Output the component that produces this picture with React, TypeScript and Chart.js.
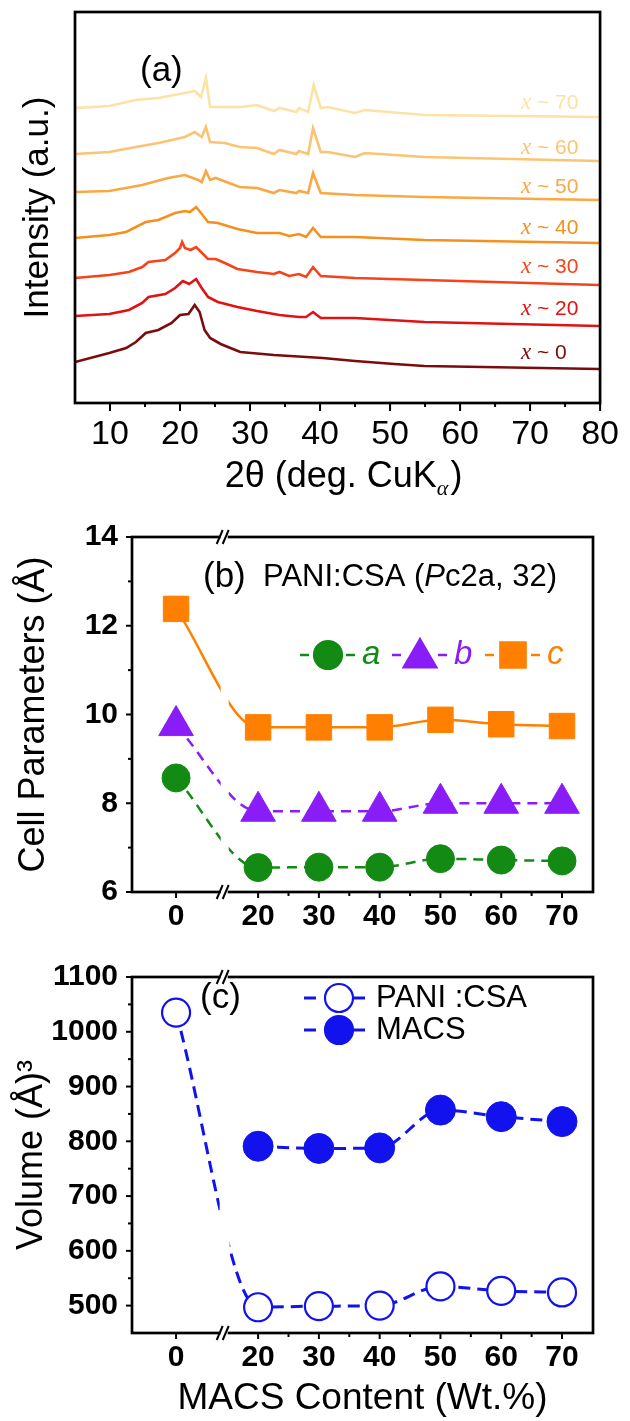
import React, { useEffect, useRef } from 'react';
import { Chart, registerables } from 'chart.js';

Chart.register(...registerables);

const SANS = '"Liberation Sans", Arial, Helvetica, sans-serif';
const SERIF = '"Liberation Serif", "Times New Roman", serif';

// ---------- Panel (a): XRD patterns (2θ, intensity in arbitrary offset units) ----------
const XRD_LABELS = ['70', '60', '50', '40', '30', '20', '0'];
const XRD_COLORS = ['#fde2a6', '#fbc473', '#f9a843', '#f6901c', '#f4441c', '#e01212', '#7a0c0c'];

const XRD_X70: [number, number][] = [[5, 300], [9.9, 302], [13.7, 308], [16.9, 310], [20.7, 315], [22.1, 317], [23.0, 311], [23.7, 330], [24.3, 301], [28.6, 301], [31.0, 303], [33.4, 297], [34.2, 300], [36.6, 296], [37.0, 300], [38.3, 296], [39.1, 323], [40.1, 300], [41.1, 301], [45.0, 295], [46.4, 298], [54.9, 293], [79.9, 291]];
const XRD_X60: [number, number][] = [[5, 254], [9.9, 256], [13.7, 261], [16.9, 265], [20.7, 271], [22.1, 276], [23.1, 271], [23.7, 281], [24.3, 266], [26.4, 265], [28.5, 261], [31.0, 260], [33.4, 254], [34.2, 258], [36.6, 254], [37.0, 257], [38.3, 254], [39.0, 280], [40.1, 256], [41.1, 256], [45.0, 251], [46.4, 255], [54.9, 251], [79.9, 247]];
const XRD_X50: [number, number][] = [[5, 216], [9.9, 217], [14.6, 223], [18.3, 230], [20.7, 233], [22.6, 228], [23.1, 226], [23.7, 237], [24.3, 228], [25.1, 230], [28.5, 221], [31.0, 220], [33.4, 215], [34.2, 218], [36.6, 215], [37.0, 217], [38.3, 215], [39.0, 235], [40.1, 215], [45.0, 213], [54.9, 211], [79.9, 208]];
const XRD_X40: [number, number][] = [[5, 170], [9.9, 173], [12.3, 176], [15.1, 186], [16.9, 188], [19.3, 195], [20.7, 197], [21.4, 196], [22.3, 201], [23.0, 195], [24.0, 186], [25.4, 185], [28.2, 179], [31.0, 175], [34.2, 175], [35.6, 172], [37.0, 174], [38.0, 171], [39.0, 180], [40.1, 171], [45.0, 171], [54.9, 168], [79.9, 165]];
const XRD_X30: [number, number][] = [[5, 130], [9.9, 133], [12.7, 136], [14.6, 141], [15.5, 146], [17.9, 148], [19.3, 155], [20.0, 160], [20.3, 166], [20.7, 160], [21.5, 158], [22.3, 161], [23.0, 156], [24.0, 149], [25.1, 149], [26.4, 145], [28.2, 139], [31.0, 136], [33.4, 134], [34.2, 136], [35.6, 132], [37.0, 134], [38.0, 131], [39.0, 141], [40.1, 132], [45.0, 130], [54.9, 128], [79.9, 123]];
const XRD_X20: [number, number][] = [[5, 92], [9.9, 94], [12.7, 98], [14.6, 105], [15.5, 111], [17.9, 114], [19.3, 120], [20.4, 127], [21.3, 124], [22.3, 129], [23.0, 121], [24.0, 111], [25.4, 106], [28.2, 101], [31.0, 97], [34.2, 93], [37.0, 91], [38.0, 91], [39.0, 96], [40.1, 90], [45.0, 90], [54.9, 86], [79.9, 82]];
const XRD_X0: [number, number][] = [[5, 46], [9.9, 55], [12.3, 60], [13.7, 66], [15.1, 75], [16.9, 78], [18.8, 85], [20.0, 93], [21.2, 94], [22.1, 103], [22.8, 96], [23.5, 78], [24.3, 70], [25.8, 64], [28.6, 56], [33.4, 53], [40.4, 50], [45.0, 47], [50.6, 44], [54.9, 42], [79.9, 39]];
const XRD_TRACES = [XRD_X70, XRD_X60, XRD_X50, XRD_X40, XRD_X30, XRD_X20, XRD_X0];
const XRD_LABEL_Y = [305, 260, 221, 180, 141, 99, 55];
const XRD_LABEL_X = 68.7;
const TWO_THETA_TICKS = [10, 20, 30, 40, 50, 60, 70, 80];
const TWO_THETA_MINOR = [15, 25, 35, 45, 55, 65, 75];

// ---------- Panel (b): cell parameters ----------
const MACS_CONTENT = [0, 20, 30, 40, 50, 60, 70];
const CELL_A = [8.57, 6.55, 6.56, 6.56, 6.75, 6.72, 6.7];
const CELL_B = [9.75, 7.82, 7.82, 7.82, 8.0, 8.0, 8.0];
const CELL_C = [12.38, 9.71, 9.71, 9.71, 9.88, 9.78, 9.74];
const CELL_TICKS = [6, 8, 10, 12, 14];
const CELL_MINOR = [7, 9, 11, 13];

// ---------- Panel (c): volume ----------
const VOL_PANI = [1035, 497, 499, 500, 535, 527, 524];
const VOL_MACS: (number | null)[] = [null, 791, 787, 788, 857, 845, 836];
const VOL_TICKS = [500, 600, 700, 800, 900, 1000, 1100];
const VOL_MINOR = [550, 650, 750, 850, 950, 1050];
const CONTENT_MINOR = [25, 35, 45, 55, 65];

// axis break (0 | 20..70)
const BREAK_LO = 7.5;
const BREAK_SHIFT = 6.5;
const BREAK_MARK = 8;
const toAxis = (v: number) => (v <= BREAK_LO ? v : v - BREAK_SHIFT);
const fromAxis = (d: number) => Math.round(d <= BREAK_LO ? d : d + BREAK_SHIFT);

const GREEN = '#138a13';
const PURPLE = '#8a1cf7';
const ORANGE = '#ff8000';
const BLUE = '#1212ee';

function line(ctx: CanvasRenderingContext2D, x1: number, y1: number, x2: number, y2: number) {
  ctx.beginPath();
  ctx.moveTo(x1, y1);
  ctx.lineTo(x2, y2);
  ctx.stroke();
}

function frame(chart: any) {
  const { ctx, chartArea: ca } = chart;
  ctx.save();
  ctx.strokeStyle = '#000';
  ctx.lineWidth = 2.7;
  ctx.strokeRect(ca.left, ca.top, ca.right - ca.left, ca.bottom - ca.top);
  ctx.restore();
}

function breakMark(ctx: CanvasRenderingContext2D, x: number, y: number) {
  ctx.save();
  ctx.fillStyle = '#fff';
  ctx.fillRect(x - 4, y - 2, 7, 4);
  ctx.strokeStyle = '#000';
  ctx.lineWidth = 2;
  line(ctx, x - 8, y + 7, x - 2, y - 7);
  line(ctx, x - 2, y + 7, x + 4, y - 7);
  ctx.restore();
}

function drawMarker(ctx: CanvasRenderingContext2D, kind: string, x: number, y: number, r: number, color: string, filled = true) {
  ctx.save();
  ctx.fillStyle = filled ? color : '#fff';
  ctx.strokeStyle = color;
  ctx.lineWidth = 2.2;
  ctx.beginPath();
  if (kind === 'circle') ctx.arc(x, y, r, 0, Math.PI * 2);
  else if (kind === 'triangle') {
    ctx.moveTo(x, y - r);
    ctx.lineTo(x + r * Math.sin(Math.PI / 3), y + r / 2);
    ctx.lineTo(x - r * Math.sin(Math.PI / 3), y + r / 2);
    ctx.closePath();
  } else {
    const s = r * Math.SQRT1_2;
    ctx.rect(x - s, y - s, 2 * s, 2 * s);
  }
  ctx.fill();
  ctx.stroke();
  ctx.restore();
}

// ---------- plugins ----------
const panelAPlugin = {
  id: 'panelA',
  afterDraw(chart: any) {
    const { ctx, chartArea: ca } = chart;
    const xs = chart.scales.x;
    const ys = chart.scales.y;
    frame(chart);
    ctx.save();
    ctx.strokeStyle = '#000';
    ctx.lineWidth = 2;
    TWO_THETA_TICKS.forEach((v) => { const p = xs.getPixelForValue(v); line(ctx, p, ca.bottom, p, ca.bottom + 8); });
    TWO_THETA_MINOR.forEach((v) => { const p = xs.getPixelForValue(v); line(ctx, p, ca.bottom, p, ca.bottom + 4); });
    ctx.textBaseline = 'middle';
    ctx.textAlign = 'left';
    XRD_LABELS.forEach((lab, i) => {
      const px = xs.getPixelForValue(XRD_LABEL_X);
      const py = ys.getPixelForValue(XRD_LABEL_Y[i]);
      ctx.fillStyle = XRD_COLORS[i];
      ctx.font = `italic 23px ${SERIF}`;
      ctx.fillText('x', px, py);
      const w = ctx.measureText('x').width;
      ctx.font = `21px ${SANS}`;
      ctx.fillText(' ~ ' + lab, px + w, py);
    });
    ctx.fillStyle = '#000';
    ctx.font = `35px ${SANS}`;
    ctx.fillText('(a)', 140, 71);
    // x-axis title with subscript
    const main = '2θ (deg. CuK';
    ctx.font = `36px ${SANS}`;
    const w1 = ctx.measureText(main).width;
    const w3 = ctx.measureText(')').width;
    ctx.font = `italic 22px ${SERIF}`;
    const w2 = ctx.measureText('α').width + 2;
    const cx = (ca.left + ca.right) / 2 + 6;
    const ty = 477;
    let x0 = cx - (w1 + w2 + w3) / 2;
    ctx.font = `36px ${SANS}`;
    ctx.fillText(main, x0, ty);
    x0 += w1;
    ctx.font = `italic 22px ${SERIF}`;
    ctx.fillText('α', x0, ty + 12);
    x0 += w2;
    ctx.font = `36px ${SANS}`;
    ctx.fillText(')', x0, ty);
    ctx.restore();
  },
};

function breakAxisTicks(chart: any, yMajor: number[], yMinor: number[]) {
  const { ctx, chartArea: ca } = chart;
  const xs = chart.scales.x;
  const ys = chart.scales.y;
  ctx.save();
  ctx.strokeStyle = '#000';
  ctx.lineWidth = 2;
  MACS_CONTENT.forEach((v) => { const p = xs.getPixelForValue(toAxis(v)); line(ctx, p, ca.bottom, p, ca.bottom + 6); });
  CONTENT_MINOR.forEach((v) => { const p = xs.getPixelForValue(toAxis(v)); line(ctx, p, ca.bottom, p, ca.bottom + 4); });
  yMajor.forEach((v) => { const p = ys.getPixelForValue(v); line(ctx, ca.left, p, ca.left - 6, p); });
  yMinor.forEach((v) => { const p = ys.getPixelForValue(v); line(ctx, ca.left, p, ca.left - 4, p); });
  ctx.restore();
  const bx = xs.getPixelForValue(BREAK_MARK);
  breakMark(ctx, bx, ca.top);
  breakMark(ctx, bx, ca.bottom);
}

function clearBreakStrip(chart: any, width: number) {
  const { ctx, chartArea: ca } = chart;
  const bx = chart.scales.x.getPixelForValue(BREAK_MARK);
  ctx.save();
  ctx.fillStyle = '#fff';
  ctx.fillRect(bx - width / 2, ca.top + 2, width, ca.bottom - ca.top - 4);
  ctx.restore();
}

const panelBPlugin = {
  id: 'panelB',
  afterDatasetsDraw(chart: any) { clearBreakStrip(chart, 8); },
  afterDraw(chart: any) {
    const { ctx } = chart;
    frame(chart);
    breakAxisTicks(chart, CELL_TICKS, CELL_MINOR);
    ctx.save();
    ctx.fillStyle = '#000';
    ctx.textBaseline = 'middle';
    ctx.textAlign = 'left';
    ctx.font = `35px ${SANS}`;
    ctx.fillText('(b)', 203, 72);
    ctx.font = `31px ${SANS}`;
    let x = 263;
    const t1 = 'PANI:CSA (';
    ctx.fillText(t1, x, 72);
    x += ctx.measureText(t1).width;
    ctx.font = `italic 31px ${SANS}`;
    ctx.fillText('P', x, 72);
    x += ctx.measureText('P').width;
    ctx.font = `31px ${SANS}`;
    ctx.fillText('c2a, 32)', x, 72);
    // series key
    const y = 150;
    const items: [string, string, string, number, number][] = [
      ['circle', GREEN, 'a', 328, 14],
      ['triangle', PURPLE, 'b', 420, 19],
      ['rect', ORANGE, 'c', 513, 18],
    ];
    items.forEach(([kind, color, lab, cx, r]) => {
      ctx.strokeStyle = color;
      ctx.lineWidth = 2.5;
      line(ctx, cx - 28, y, cx - 19, y);
      line(ctx, cx + 18, y, cx + 27, y);
      drawMarker(ctx, kind, cx, kind === 'triangle' ? y + 3 : y, r, color);
      ctx.fillStyle = color;
      ctx.font = `italic 33px ${SANS}`;
      ctx.fillText(lab, cx + 34, y);
    });
    ctx.restore();
  },
};

const panelCPlugin = {
  id: 'panelC',
  afterDatasetsDraw(chart: any) { clearBreakStrip(chart, 10); },
  afterDraw(chart: any) {
    const { ctx } = chart;
    frame(chart);
    breakAxisTicks(chart, VOL_TICKS, VOL_MINOR);
    ctx.save();
    ctx.fillStyle = '#000';
    ctx.textBaseline = 'middle';
    ctx.textAlign = 'left';
    ctx.font = `35px ${SANS}`;
    ctx.fillText('(c)', 200, 53);
    const rows: [boolean, string, number][] = [[false, 'PANI :CSA', 53], [true, 'MACS', 85]];
    rows.forEach(([filled, lab, y]) => {
      ctx.strokeStyle = BLUE;
      ctx.lineWidth = 3;
      line(ctx, 304, y, 316, y);
      line(ctx, 354, y, 365, y);
      drawMarker(ctx, 'circle', 339, y, 14, BLUE, filled);
      ctx.fillStyle = '#000';
      ctx.font = `31px ${SANS}`;
      ctx.fillText(lab, 376, y);
    });
    ctx.restore();
  },
};

// ---------- configs ----------
const common = {
  animation: false,
  responsive: false,
  events: [],
  plugins: { legend: { display: false }, tooltip: { enabled: false }, title: { display: false } },
};

function configA(): any {
  return {
    type: 'line',
    data: {
      datasets: XRD_TRACES.map((t, i) => ({
        data: t.map(([x, y]) => ({ x, y })),
        borderColor: XRD_COLORS[i],
        borderWidth: 2.6,
        pointRadius: 0,
        tension: 0,
        fill: false,
      })),
    },
    options: {
      ...common,
      layout: { padding: { top: 12, right: 21, left: 0, bottom: 0 } },
      scales: {
        x: {
          type: 'linear', min: 5, max: 80,
          afterBuildTicks: (s: any) => { s.ticks = TWO_THETA_TICKS.map((v) => ({ value: v })); },
          ticks: { font: { size: 34, family: SANS }, color: '#000', padding: 11, maxRotation: 0, autoSkip: false },
          grid: { display: false, drawTicks: false },
          border: { display: false },
          afterFit: (s: any) => { s.height = 102; },
        },
        y: {
          type: 'linear', min: 5, max: 396,
          ticks: { display: false },
          grid: { display: false, drawTicks: false },
          border: { display: false },
          title: { display: true, text: 'Intensity (a.u.)', font: { size: 35, family: SANS }, color: '#000', padding: { top: 17, bottom: 0 } },
          afterFit: (s: any) => { s.width = 75; },
        },
      },
    },
    plugins: [panelAPlugin],
  };
}

const breakX = (height: number, title: string | null) => ({
  type: 'linear', min: -7.25, max: 68.6,
  afterBuildTicks: (s: any) => { s.ticks = MACS_CONTENT.map((v) => ({ value: toAxis(v) })); },
  ticks: {
    callback: (v: any) => String(fromAxis(Number(v))),
    font: { size: 30, weight: 'bold', family: SANS }, color: '#000', padding: 7, maxRotation: 0, autoSkip: false,
  },
  grid: { display: false, drawTicks: false },
  border: { display: false },
  title: title ? { display: true, text: title, font: { size: 37, family: SANS }, color: '#000', padding: { top: 0, bottom: 0 } } : { display: false },
  afterFit: (s: any) => { s.height = height; },
});

function configB(): any {
  const pts = (vals: number[]) => MACS_CONTENT.map((c, i) => ({ x: toAxis(c), y: vals[i] }));
  return {
    type: 'line',
    data: {
      datasets: [
        { data: pts(CELL_C), borderColor: ORANGE, backgroundColor: ORANGE, borderWidth: 2.5, pointStyle: 'rect', pointRadius: 18, pointBorderWidth: 1, cubicInterpolationMode: 'monotone' },
        { data: pts(CELL_B), borderColor: PURPLE, backgroundColor: PURPLE, borderWidth: 2.5, borderDash: [10, 7], pointStyle: 'triangle', pointRadius: 20, pointBorderWidth: 1, cubicInterpolationMode: 'monotone' },
        { data: pts(CELL_A), borderColor: GREEN, backgroundColor: GREEN, borderWidth: 2.5, borderDash: [10, 7], pointStyle: 'circle', pointRadius: 14, pointBorderWidth: 1, cubicInterpolationMode: 'monotone' },
      ],
    },
    options: {
      ...common,
      layout: { padding: { top: 18, right: 37, left: 0, bottom: 0 } },
      scales: {
        x: breakX(53, null),
        y: {
          type: 'linear', min: 6, max: 14,
          afterBuildTicks: (s: any) => { s.ticks = CELL_TICKS.map((v) => ({ value: v })); },
          ticks: { callback: (v: any) => String(v), font: { size: 30, weight: 'bold', family: SANS }, color: '#000', padding: 14 },
          grid: { display: false, drawTicks: false },
          border: { display: false },
          title: { display: true, text: 'Cell Parameters (Å)', font: { size: 36, family: SANS }, color: '#000', padding: { top: 12, bottom: 0 } },
          afterFit: (s: any) => { s.width = 132; },
        },
      },
    },
    plugins: [panelBPlugin],
  };
}

function configC(): any {
  const pani = MACS_CONTENT.map((c, i) => ({ x: toAxis(c), y: VOL_PANI[i] }));
  const macs = MACS_CONTENT.map((c, i) => ({ x: toAxis(c), y: VOL_MACS[i] })).filter((p) => p.y !== null);
  return {
    type: 'line',
    data: {
      datasets: [
        { data: pani, borderColor: BLUE, backgroundColor: '#fff', pointBackgroundColor: '#fff', pointBorderColor: BLUE, borderWidth: 3, borderDash: [12, 7], pointStyle: 'circle', pointRadius: 14, pointBorderWidth: 2.2, cubicInterpolationMode: 'monotone' },
        { data: macs, borderColor: BLUE, backgroundColor: BLUE, borderWidth: 3, borderDash: [12, 7], pointStyle: 'circle', pointRadius: 15, pointBorderWidth: 1, cubicInterpolationMode: 'monotone' },
      ],
    },
    options: {
      ...common,
      layout: { padding: { top: 17, right: 37, left: 0, bottom: 0 } },
      scales: {
        x: breakX(88, 'MACS Content (Wt.%)'),
        y: {
          type: 'linear', min: 450, max: 1100,
          afterBuildTicks: (s: any) => { s.ticks = VOL_TICKS.map((v) => ({ value: v })); },
          ticks: { callback: (v: any) => String(v), font: { size: 30, weight: 'bold', family: SANS }, color: '#000', padding: 14 },
          grid: { display: false, drawTicks: false },
          border: { display: false },
          title: { display: true, text: 'Volume (Å)³', font: { size: 36, family: SANS }, color: '#000', padding: { top: 10, bottom: 0 } },
          afterFit: (s: any) => { s.width = 132; },
        },
      },
    },
    plugins: [panelCPlugin],
  };
}

function ChartBox({ make, top, height }: { make: () => any; top: number; height: number }) {
  const ref = useRef<HTMLCanvasElement>(null);
  useEffect(() => {
    const chart = new Chart(ref.current as HTMLCanvasElement, make());
    return () => chart.destroy();
  }, []);
  return (
    <canvas
      ref={ref}
      width={630}
      height={height}
      style={{ position: 'absolute', left: 0, top, width: 630, height, display: 'block' }}
    />
  );
}

export default function App() {
  return (
    <div style={{ position: 'absolute', left: 0, top: 0, width: 630, height: 1421, background: '#fff', overflow: 'hidden' }}>
      <ChartBox make={configA} top={0} height={505} />
      <ChartBox make={configB} top={505} height={440} />
      <ChartBox make={configC} top={945} height={476} />
    </div>
  );
}
